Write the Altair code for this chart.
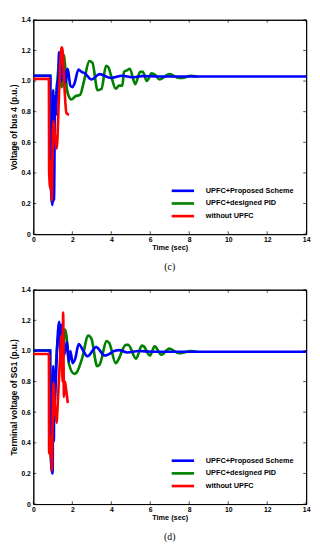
import altair as alt
import pandas as pd

SERIES = ["UPFC+Proposed Scheme", "UPFC+designed PID", "without UPFC"]
COLORS = ["#0000ff", "#008000", "#ff0000"]
DRAW_ORDER = ["UPFC+designed PID", "UPFC+Proposed Scheme", "without UPFC"]

X_TICKS = [0, 2, 4, 6, 8, 10, 12, 14]
Y_TICKS = [0, 0.2, 0.4, 0.6, 0.8, 1.0, 1.2, 1.4]

# ---- panel (c): Voltage of bus 4 ----
c_blue_t = [0, 0.87, 0.88, 0.95, 0.98, 1.0, 1.02, 1.04, 1.06, 1.08, 1.1, 1.13, 1.16, 1.2, 1.23, 1.27,
            1.32, 1.38, 1.43, 1.5, 1.57, 1.67, 1.73, 1.78, 1.9, 2.0, 2.1, 2.32, 2.48, 2.65, 2.98,
            3.4, 3.98, 4.57, 5.07, 5.57, 6.4, 14]
c_blue_v = [1.035, 1.035, 0.4, 0.22, 0.19, 0.25, 0.94, 0.7, 0.22, 0.44, 0.78, 0.9, 0.78, 0.92, 1.0, 0.98,
            1.19, 1.1, 1.0, 1.09, 1.07, 0.99, 1.08, 1.07, 0.97, 0.96, 0.98, 1.075, 1.06, 1.05, 1.01,
            1.045, 1.02, 1.035, 1.025, 1.032, 1.03, 1.03]
c_green_t = [0, 0.87, 0.89, 0.97, 1.01, 1.1, 1.2, 1.3, 1.38, 1.45, 1.5, 1.57, 1.63, 1.72, 1.82, 1.95,
             2.15, 2.4, 2.6, 2.87, 3.03, 3.3, 3.5, 3.73, 3.85, 4.0, 4.23, 4.4, 4.57, 4.65, 4.8, 4.95,
             5.23, 5.48, 5.62, 5.82, 6.07, 6.25, 6.48, 6.98, 7.48, 7.65, 8.07, 8.4]
c_green_v = [1.035, 1.035, 0.4, 0.2, 0.88, 0.8, 0.95, 1.1, 1.15, 0.96, 1.0, 1.17, 1.1, 0.95, 0.9, 0.88,
             0.9, 0.91, 1.0, 1.13, 1.12, 0.94, 0.95, 1.10, 1.09, 1.03, 0.95, 0.97, 0.97, 1.06, 1.07, 1.08,
             0.98, 1.06, 1.06, 1.0, 1.05, 1.04, 1.01, 1.045, 1.02, 1.02, 1.035, 1.03]
c_red_t = [0, 0.8, 0.81, 0.83, 0.86, 0.9, 0.95, 0.98, 1.03, 1.1, 1.15, 1.2, 1.3, 1.37, 1.45, 1.5, 1.6, 1.7, 1.83]
c_red_v = [1.014, 1.014, 0.42, 0.35, 0.3, 0.48, 0.22, 0.48, 0.74, 0.65, 0.6, 0.56, 0.85, 1.08, 1.22, 1.2, 0.95, 0.79, 0.78]

# ---- panel (d): Terminal voltage of SG1 ----
d_blue_t = [0, 0.86, 0.88, 0.95, 0.99, 1.02, 1.05, 1.08, 1.1, 1.15, 1.23, 1.33, 1.4, 1.45, 1.57,
            1.73, 1.82, 1.9, 2.02, 2.15, 2.33, 2.57, 2.77, 3.23, 3.65, 3.82, 4.15, 4.4, 4.82, 5.4, 6.07, 14]
d_blue_v = [1.003, 1.003, 0.4, 0.22, 0.2, 0.9, 0.41, 0.87, 0.67, 0.8, 1.05, 1.19, 0.97, 1.17, 0.97,
            1.06, 0.93, 1.0, 0.92, 0.95, 1.045, 1.0, 0.965, 1.025, 0.97, 0.975, 1.0, 1.005, 0.99, 1.0, 0.995, 0.995]
d_green_t = [0, 0.86, 0.88, 0.96, 1.0, 1.08, 1.18, 1.3, 1.42, 1.5, 1.62, 1.7, 1.82, 2.1, 2.23,
             2.5, 2.82, 2.98, 3.28, 3.4, 3.77, 3.9, 4.23, 4.35, 4.75, 4.87, 5.27, 5.57, 5.67, 5.98,
             6.23, 6.57, 6.98, 7.48, 7.73, 8.07, 8.4]
d_green_v = [1.003, 1.003, 0.4, 0.21, 0.85, 0.7, 0.95, 1.1, 1.05, 0.95, 1.14, 1.1, 0.92, 0.85, 0.86,
             0.95, 1.1, 1.08, 0.9, 0.91, 1.065, 1.05, 0.92, 0.94, 1.04, 1.04, 0.95, 1.035, 1.03, 0.97,
             1.03, 0.975, 1.015, 0.985, 0.99, 1.0, 0.995]
d_red_t = [0, 0.8, 0.81, 0.85, 0.9, 0.93, 0.95, 0.98, 1.03, 1.12, 1.2, 1.23, 1.37, 1.45, 1.5, 1.53, 1.57, 1.62, 1.68, 1.77]
d_red_v = [0.98, 0.98, 0.33, 0.43, 0.3, 0.45, 0.22, 0.45, 0.79, 0.6, 0.53, 0.6, 0.95, 1.1, 0.8, 1.25, 0.7, 0.8, 0.75, 0.66]

PANELS = [
    ("Voltage of bus 4 (p.u.)", "(c)",
     {SERIES[0]: (c_blue_t, c_blue_v), SERIES[1]: (c_green_t, c_green_v), SERIES[2]: (c_red_t, c_red_v)}),
    ("Terminal voltage of SG1 (p.u.)", "(d)",
     {SERIES[0]: (d_blue_t, d_blue_v), SERIES[1]: (d_green_t, d_green_v), SERIES[2]: (d_red_t, d_red_v)}),
]

W, H = 280, 220
FONT = "Liberation Sans"

xscale = alt.Scale(domain=[0, 14], nice=False)
yscale = alt.Scale(domain=[0, 1.4], nice=False)

COMMON = dict(grid=False, ticks=False, domain=True, domainColor="black", domainWidth=1,
              domainOpacity=1, labelFlush=False)


def panel(ytitle, caption, data):
    xaxis = alt.Axis(values=X_TICKS, title="Time (sec)", labelFont=FONT, labelFontSize=7,
                     labelFontWeight="bold", labelColor="black", labelPadding=2, titleFont=FONT,
                     titleFontSize=7.5, titleFontWeight="bold", titleColor="black", titlePadding=1,
                     **COMMON)
    yaxis = alt.Axis(values=Y_TICKS, title=ytitle, labelFont=FONT, labelFontSize=7,
                     labelFontWeight="bold", labelColor="black", labelPadding=3,
                     labelExpr="datum.value == 0 ? '0' : format(datum.value, '.1f')",
                     titleFont=FONT, titleFontSize=8.5, titleFontWeight="bold", titleColor="black",
                     titlePadding=3, **COMMON)
    xtop = alt.Axis(orient="top", values=X_TICKS, labels=False, title=None, **COMMON)
    yright = alt.Axis(orient="right", values=Y_TICKS, labels=False, title=None, **COMMON)

    layers = []
    for k, name in enumerate(DRAW_ORDER):
        ts, vs = data[name]
        df = pd.DataFrame({"t": ts, "v": vs, "s": name, "i": range(len(ts))})
        legend = alt.Legend(orient="none", legendX=146, legendY=168,
                            symbolType="M-2,0H2", symbolSize=132, symbolStrokeWidth=2.7,
                            labelFont=FONT, labelFontSize=7.5, labelFontWeight="bold",
                            labelColor="black", labelOffset=16, rowPadding=-6.5,
                            labelLimit=200, padding=0)
        layers.append(
            alt.Chart(df).mark_line(strokeWidth=2.7, interpolate="monotone").encode(
                x=alt.X("t:Q", scale=xscale, axis=xaxis if k == 0 else None),
                y=alt.Y("v:Q", scale=yscale, axis=yaxis if k == 0 else None),
                color=alt.Color("s:N", scale=alt.Scale(domain=SERIES, range=COLORS),
                                legend=legend, title=None),
                order=alt.Order("i:Q"),
            )
        )
    ydf = pd.DataFrame({"v": Y_TICKS})
    xdf = pd.DataFrame({"t": X_TICKS})
    layers.append(alt.Chart(ydf).mark_tick(color="black", thickness=1, size=3).encode(
        y=alt.Y("v:Q", scale=yscale, axis=None), x=alt.value(1.5)))
    layers.append(alt.Chart(ydf).mark_tick(color="black", thickness=1, size=3).encode(
        y=alt.Y("v:Q", scale=yscale, axis=yright), x=alt.value(W - 1.5)))
    layers.append(alt.Chart(xdf).mark_tick(color="black", thickness=1, size=3).encode(
        x=alt.X("t:Q", scale=xscale, axis=xtop), y=alt.value(1.5)))
    layers.append(alt.Chart(xdf).mark_tick(color="black", thickness=1, size=3).encode(
        x=alt.X("t:Q", scale=xscale, axis=None), y=alt.value(H - 1.5)))
    return alt.layer(*layers).resolve_axis(x="independent", y="independent").properties(
        width=W, height=H,
        title=alt.Title(caption, orient="bottom", anchor="middle", font="Liberation Serif",
                        fontSize=10, fontWeight="normal", color="black", offset=11),
    )


charts = [panel(*p) for p in PANELS]
chart = alt.vconcat(*charts, spacing=57, bounds="flush").resolve_scale(color="independent").resolve_legend(
    color="independent"
).properties(
    padding={"left": 0, "top": 0, "right": 0, "bottom": 0},
    background="white",
).configure_view(stroke="black", strokeWidth=1)

chart.save("out.html", embed_options={"renderer": "svg", "actions": False})
